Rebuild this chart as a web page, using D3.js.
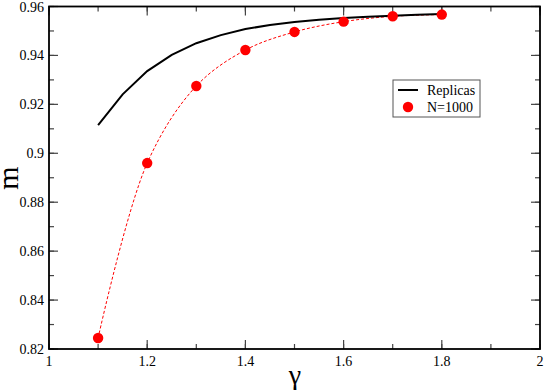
<!DOCTYPE html>
<html>
<head>
<meta charset="utf-8">
<script src="https://cdn.jsdelivr.net/npm/d3@7"></script>
<style>
  body { margin: 0; background: #fff; }
</style>
</head>
<body>
<div id="chart"></div>
<script>
// Replicas curve
const replicasGamma = [1.1, 1.15, 1.2, 1.25, 1.3, 1.35, 1.4, 1.45, 1.5, 1.55, 1.6, 1.65, 1.7, 1.75, 1.8];
const replicasM = [0.9115, 0.9241, 0.9336, 0.9402, 0.9450, 0.9483, 0.9508, 0.9524, 0.9537, 0.9546, 0.9553, 0.9558, 0.9562, 0.9566, 0.9569];
// N=1000 simulation points
const simGamma = [1.1, 1.2, 1.3, 1.4, 1.5, 1.6, 1.7, 1.8];
const simM = [0.8245, 0.8960, 0.9275, 0.9422, 0.9496, 0.9538, 0.9560, 0.9567];

const xTicks = [1, 1.2, 1.4, 1.6, 1.8, 2];
const yTicks = [0.82, 0.84, 0.86, 0.88, 0.9, 0.92, 0.94, 0.96];
const legendLabels = ['Replicas', 'N=1000'];

const W = 545, H = 392;
const margin = { top: 6.5, right: 5, bottom: 43, left: 49 };
const width = W - margin.left - margin.right;
const height = H - margin.top - margin.bottom;
const serif = 'Liberation Serif';

const svg = d3.select('#chart').append('svg')
  .attr('width', W).attr('height', H)
  .attr('font-family', serif);
const plot = svg.append('g')
  .attr('transform', `translate(${margin.left},${margin.top})`);

const x = d3.scaleLinear().domain([1, 2]).range([0, width]);
const y = d3.scaleLinear().domain([0.82, 0.96]).range([height, 0]);

const minorX = d3.range(1, 2.0001, 0.1);
const minorY = d3.range(0.82, 0.9601, 0.01);

// ticks on all four sides, pointing in
function ticks(g, vals, len, orient) {
  g.selectAll(null).data(vals).join('line')
    .attr('stroke', '#444').attr('stroke-width', 1.2)
    .each(function (d) {
      const s = d3.select(this);
      if (orient === 'bottom') s.attr('x1', x(d)).attr('x2', x(d)).attr('y1', height).attr('y2', height - len);
      if (orient === 'top') s.attr('x1', x(d)).attr('x2', x(d)).attr('y1', 0).attr('y2', len);
      if (orient === 'left') s.attr('y1', y(d)).attr('y2', y(d)).attr('x1', 0).attr('x2', len);
      if (orient === 'right') s.attr('y1', y(d)).attr('y2', y(d)).attr('x1', width).attr('x2', width - len);
    });
}
const tg = plot.append('g').attr('class', 'ticks');
['bottom', 'top'].forEach(o => { ticks(tg, minorX, 5, o); ticks(tg, xTicks, 9, o); });
['left', 'right'].forEach(o => { ticks(tg, minorY, 5, o); ticks(tg, yTicks, 9, o); });

plot.append('rect')
  .attr('width', width).attr('height', height)
  .attr('fill', 'none').attr('stroke', '#000').attr('stroke-width', 1.8);

// tick labels
plot.append('g').selectAll('text').data(xTicks).join('text')
  .attr('font-family', serif)
  .attr('x', d => x(d)).attr('y', height + 17)
  .attr('text-anchor', 'middle').attr('font-size', 14)
  .text(d => d3.format('')(d));
plot.append('g').selectAll('text').data(yTicks).join('text')
  .attr('font-family', serif)
  .attr('x', -5).attr('y', d => y(d) + 5)
  .attr('text-anchor', 'end').attr('font-size', 14)
  .text(d => d3.format('.2~f')(d));

// axis titles
svg.append('text')
  .attr('font-family', serif)
  .attr('transform', `translate(18,178) rotate(-90)`)
  .attr('text-anchor', 'middle').attr('font-size', 30)
  .text('m');
svg.append('text')
  .attr('font-family', serif)
  .attr('x', 295).attr('y', 384)
  .attr('text-anchor', 'middle').attr('font-size', 28)
  .text('γ');

// N=1000 dashed smooth curve
const simData = simGamma.map((g, i) => [g, simM[i]]);
plot.append('path')
  .datum(simData)
  .attr('fill', 'none').attr('stroke', '#f00').attr('stroke-width', 1)
  .attr('stroke-dasharray', '3,2')
  .attr('d', d3.line().x(d => x(d[0])).y(d => y(d[1])).curve(d3.curveCatmullRom));

// Replicas line
const repData = replicasGamma.map((g, i) => [g, replicasM[i]]);
plot.append('path')
  .datum(repData)
  .attr('fill', 'none').attr('stroke', '#000').attr('stroke-width', 2)
  .attr('d', d3.line().x(d => x(d[0])).y(d => y(d[1])));

// points
plot.append('g').selectAll('circle').data(simData).join('circle')
  .attr('cx', d => x(d[0])).attr('cy', d => y(d[1])).attr('r', 5.2)
  .attr('fill', '#f00');

// legend
const lg = svg.append('g').attr('transform', 'translate(393,80)');
lg.append('rect').attr('width', 87).attr('height', 37)
  .attr('fill', '#fff').attr('stroke', '#555').attr('stroke-width', 1);
lg.append('line').attr('x1', 5).attr('x2', 25).attr('y1', 10).attr('y2', 10)
  .attr('stroke', '#000').attr('stroke-width', 2);
lg.append('circle').attr('cx', 15).attr('cy', 27).attr('r', 5.2).attr('fill', '#f00');
lg.selectAll('text.lbl').data(legendLabels).join('text')
  .attr('class', 'lbl').attr('font-family', serif)
  .attr('x', 34).attr('y', (d, i) => 15 + i * 17)
  .attr('font-size', 14)
  .text(d => d);
</script>
</body>
</html>
